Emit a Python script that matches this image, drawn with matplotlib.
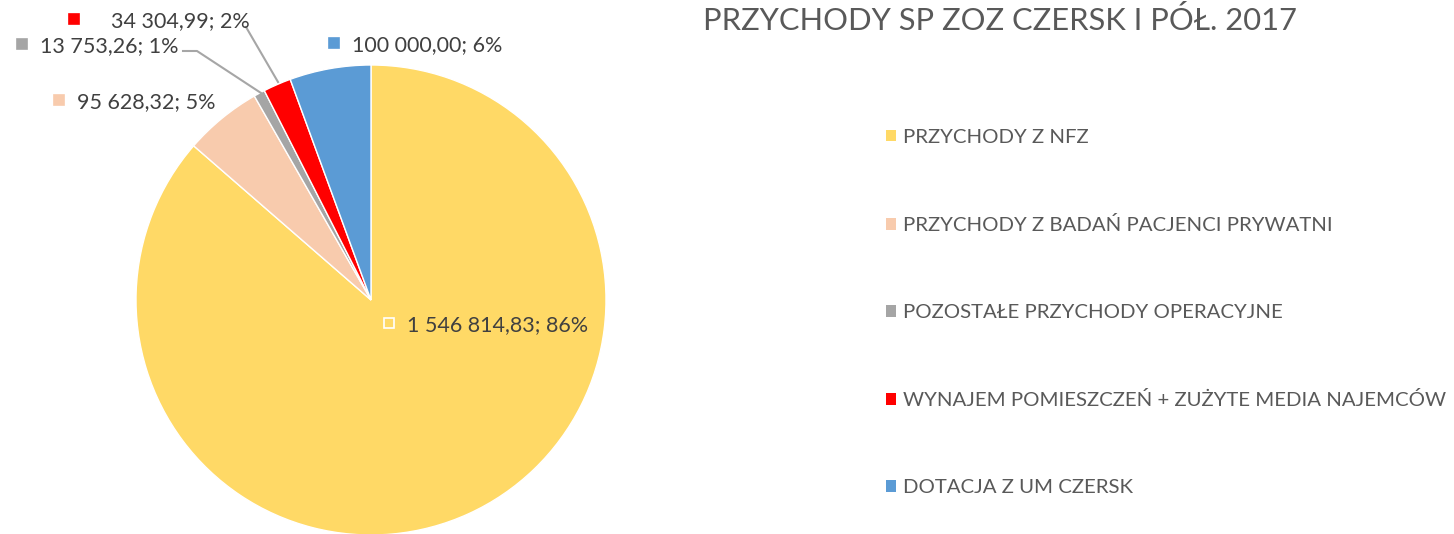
import matplotlib
matplotlib.use("Agg")
import matplotlib.pyplot as plt
from matplotlib.patches import Rectangle
from matplotlib.lines import Line2D

categories = ["PRZYCHODY Z NFZ", "PRZYCHODY Z BADAŃ PACJENCI PRYWATNI",
              "POZOSTAŁE PRZYCHODY OPERACYJNE",
              "WYNAJEM POMIESZCZEŃ + ZUŻYTE MEDIA NAJEMCÓW", "DOTACJA Z UM CZERSK"]
values = [1546814.83, 95628.32, 13753.26, 34304.99, 100000.00]
value_labels = ["1 546 814,83; 86%", "95 628,32; 5%", "13 753,26; 1%", "34 304,99; 2%", "100 000,00; 6%"]
colors = ["#FFD966", "#F8CBAD", "#A5A5A5", "#FF0000", "#5B9BD5"]
title = "PRZYCHODY SP ZOZ CZERSK I PÓŁ. 2017"

W, H = 1454, 534
plt.rcParams['font.family'] = ['Lato', 'DejaVu Sans']
fig = plt.figure(figsize=(W / 100, H / 100), dpi=100)

def fx(x):
    return x / W

def fy(y):
    return 1 - y / H

cx, cy, r = 371, 300, 235
ax = fig.add_axes([fx(cx - r), fy(cy + r), 2 * r / W, 2 * r / H])
wedges, _ = ax.pie(values, colors=colors, startangle=90, counterclock=False,
                   radius=1, wedgeprops=dict(edgecolor="white", linewidth=1))
ax.set_xlim(-1, 1)
ax.set_ylim(-1, 1)
ax.set_aspect('auto')
for w in wedges:
    w.set_clip_on(False)

# data labels: (square left x, center y, text left x)
label_pos = [(384, 323, 407), (54, 100, 77), (17, 44, 40), (69, 19, 111), (329, 43, 352)]
sq = 10
for i, (sx, syc, tx) in enumerate(label_pos):
    ec = "white" if i == 0 else colors[i]
    fig.patches.append(Rectangle((fx(sx), fy(syc + sq / 2)), sq / W, sq / H,
                                 transform=fig.transFigure, facecolor=colors[i],
                                 edgecolor=ec, linewidth=1.2))
    fig.text(fx(tx), fy(syc), value_labels[i], fontsize=15.5, color="#404040",
             ha="left", va="center_baseline")

# leader lines
lc = "#A6A6A6"
fig.lines.append(Line2D([fx(183), fx(197), fx(261)], [fy(51), fy(51), fy(93)],
                        transform=fig.transFigure, color=lc, linewidth=1.5))
fig.lines.append(Line2D([fx(246), fx(278)], [fy(27), fy(82)],
                        transform=fig.transFigure, color=lc, linewidth=1.5))

fig.text(fx(703), fy(18), title, fontsize=22.2, color="#595959", ha="left",
         va="center_baseline")

fs = 14.7
fpx = fs * 100 / 72
leg = fig.legend(wedges, categories, loc="upper left",
                 bbox_to_anchor=(fx(886), fy(129)), frameon=False,
                 fontsize=fs, labelcolor="#595959", handlelength=10 / fpx,
                 handleheight=10 / fpx, handletextpad=7 / fpx, labelspacing=3.43,
                 borderpad=0, borderaxespad=0)
for h in leg.legend_handles:
    h.set_edgecolor("none")

fig.savefig("out.png", dpi=100)
